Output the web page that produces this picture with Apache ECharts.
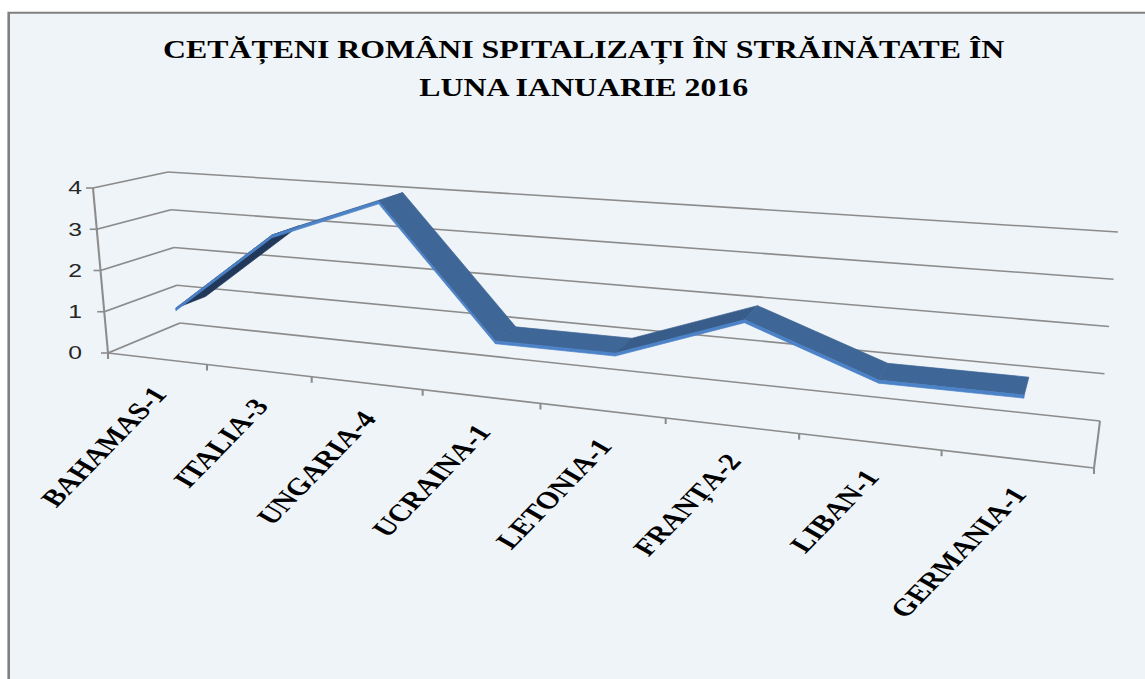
<!DOCTYPE html>
<html>
<head>
<meta charset="utf-8">
<script src="https://cdn.jsdelivr.net/npm/echarts@6/dist/echarts.min.js"></script>
<style>
  html, body { margin: 0; padding: 0; background: #fff; overflow: hidden; }
  /* the original picture is stretched sideways, so the whole chart is too */
  #main { width: 881px; height: 679px; transform: scaleX(1.3); transform-origin: 0 0; }
</style>
</head>
<body>
<div id="main"></div>
<script>
const titleText = 'CETĂȚENI ROMÂNI SPITALIZAȚI ÎN STRĂINĂTATE ÎN\nLUNA IANUARIE 2016'
const categories = ['BAHAMAS-1', 'ITALIA-3', 'UNGARIA-4', 'UCRAINA-1', 'LETONIA-1', 'FRANȚA-2', 'LIBAN-1', 'GERMANIA-1']
const values = [1, 3, 4, 1, 1, 2, 1, 1]
const yTicks = [0, 1, 2, 3, 4]

const SX = 1.3
// corners of the 3d box on screen (stretched px): back / front, left / right, bottom / top
const box = {
  blb: [180, 323], blt: [168, 172], brb: [1100, 421], brt: [1118, 232],
  flb: [108, 353], flt: [93, 188], frb: [1094, 468], frt: [1114, 262]
}
const K = 1.28          // foreshortening along the category axis
const W_BACK = 0.25     // depth band of the ribbon (0 = back wall, 1 = front)
const W_FRONT = 0.68
const THICK = 0.016     // ribbon thickness in value units (normalised)

const lerp = (a, b, t) => [a[0] + (b[0] - a[0]) * t, a[1] + (b[1] - a[1]) * t]

function proj(u, v, w) {
  const s = u / (u + K * (1 - u))
  const back = lerp(lerp(box.blb, box.brb, s), lerp(box.blt, box.brt, s), v)
  const front = lerp(lerp(box.flb, box.frb, s), lerp(box.flt, box.frt, s), v)
  const p = lerp(back, front, w)
  return [p[0] / SX, p[1]]
}

// axis value -> normalised position inside the grid
function norm(params, api, x, y) {
  const cs = params.coordSys
  const p = api.coord([x, y])
  return [(p[0] - cs.x) / cs.width, (cs.y + cs.height - p[1]) / cs.height]
}

const gridStroke = { stroke: '#8c8c8c', lineWidth: 1.6 }

function renderFrame(params, api) {
  const cs = params.coordSys
  const children = []
  const line = (a, b) => children.push({
    type: 'line', shape: { x1: a[0], y1: a[1], x2: b[0], y2: b[1] }, style: gridStroke
  })
  const vTop = norm(params, api, 0, yTicks[yTicks.length - 1])[1]
  yTicks.forEach(t => {
    const v = norm(params, api, 0, t)[1]
    line(proj(0, v, 0), proj(1, v, 0))
    line(proj(0, v, 1), proj(0, v, 0))
    const f = proj(0, v, 1)
    line([f[0] - 7 / SX, f[1]], f)
  })
  line(proj(0, 0, 1), proj(0, vTop, 1))
  line(proj(0, 0, 1), proj(1, 0, 1))
  line(proj(1, 0, 0), proj(1, 0, 1))
  // category boundary ticks
  const half = api.size([1, 0])[0] / 2 / cs.width
  categories.forEach((c, i) => {
    const u = norm(params, api, i, 0)[0]
    const edges = i === 0 ? [u - half, u + half] : [u + half]
    edges.forEach(e => {
      const p = proj(e, 0, 1)
      line(p, [p[0], p[1] + 6])
    })
  })
  return { type: 'group', children }
}

function renderLabel(params, api) {
  const i = api.value(0)
  const u = norm(params, api, i, 0)[0]
  const p = proj(u, 0, 1)
  return {
    type: 'text',
    x: p[0] + 2,
    y: p[1] + 31,
    rotation: 53 * Math.PI / 180,
    style: {
      text: categories[i],
      font: 'bold 24px "Liberation Serif"',
      fill: '#000',
      align: 'right',
      verticalAlign: 'middle'
    }
  }
}

function renderRibbon(params, api) {
  const i = api.value(0)
  if (i >= values.length - 1) return null
  const a = norm(params, api, i, api.value(1))
  const b = norm(params, api, i + 1, values[i + 1])
  const p0 = proj(a[0], a[1], W_BACK)
  const p1 = proj(b[0], b[1], W_BACK)
  const p2 = proj(b[0], b[1], W_FRONT)
  const p3 = proj(a[0], a[1], W_FRONT)
  const cross = (p1[0] - p0[0]) * (p3[1] - p0[1]) - (p1[1] - p0[1]) * (p3[0] - p0[0])
  let color
  if (cross < 0) color = '#21385a'
  else color = b[1] > a[1] ? '#385d8b' : '#3e6696'
  const f0 = proj(a[0], a[1] - THICK, W_FRONT)
  const f1 = proj(b[0], b[1] - THICK, W_FRONT)
  return {
    type: 'group',
    children: [
      { type: 'polygon', shape: { points: [p0, p1, p2, p3] }, style: { fill: color, stroke: color, lineWidth: 0.6 } },
      { type: 'polygon', shape: { points: [p3, p2, f1, f0] }, style: { fill: '#4c82c8', stroke: '#4c82c8', lineWidth: 0.6 } }
    ]
  }
}

const chart = echarts.init(document.getElementById('main'), null, { renderer: 'svg' })
chart.setOption({
  backgroundColor: '#fff',
  animation: false,
  title: {
    text: titleText,
    left: 449,
    top: 31,
    padding: 0,
    textAlign: 'center',
    textStyle: {
      fontFamily: 'Liberation Serif',
      fontWeight: 'bold',
      fontSize: 24.5,
      lineHeight: 38,
      color: '#000'
    }
  },
  graphic: [{
    type: 'rect',
    z: -10,
    shape: { x: 6.7, y: 12.7, width: 900, height: 700 },
    style: { fill: '#eff4f8', stroke: '#808080', lineWidth: 2 }
  }],
  grid: { left: 71, top: 188, right: 60, bottom: 326, outerBoundsMode: 'none' },
  xAxis: { type: 'category', data: categories, show: false },
  yAxis: {
    type: 'value',
    min: 0,
    max: 4,
    interval: 1,
    axisLine: { show: false },
    axisTick: { show: false },
    splitLine: { show: false },
    axisLabel: { fontFamily: 'Liberation Sans', fontSize: 19, color: '#262626', margin: 8 }
  },
  series: [
    {
      type: 'custom', name: 'frame', z: 1, clip: false, silent: true,
      data: [[0]], renderItem: renderFrame
    },
    {
      type: 'custom', name: 'labels', z: 2, clip: false, silent: true,
      data: categories.map((c, i) => [i]), renderItem: renderLabel
    },
    {
      type: 'custom', name: 'Cetățeni', z: 3, clip: false,
      data: values.map((v, i) => [i, v]), renderItem: renderRibbon
    }
  ]
})
</script>
</body>
</html>
